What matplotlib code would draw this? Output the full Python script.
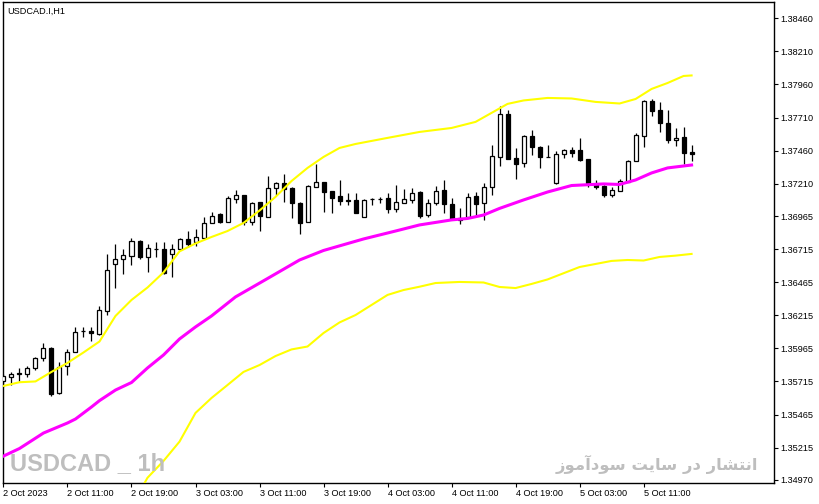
import numpy as np
import matplotlib
matplotlib.use("Agg")
import matplotlib.pyplot as plt

plt.rcParams['font.family'] = ['Liberation Sans', 'DejaVu Sans']

# USDCAD H1 candles, 2 Oct 2023 03:00 onwards
opens = [1.35718, 1.35749, 1.35775, 1.35771, 1.35815, 1.35892, 1.35964, 1.35625, 1.35832, 1.35940,
         1.36099, 1.36099, 1.36074, 1.36250, 1.36601, 1.36639, 1.36666, 1.36777, 1.36658, 1.36714,
         1.36714, 1.36676, 1.36714, 1.36790, 1.36772, 1.36802, 1.36915, 1.36981, 1.36923, 1.37094,
         1.37125, 1.36923, 1.37069, 1.36961, 1.37175, 1.37213, 1.37175, 1.37064, 1.36923, 1.37187,
         1.37221, 1.37155, 1.37117, 1.37082, 1.37087, 1.36961, 1.37094, 1.37092, 1.37100, 1.37021,
         1.37066, 1.37087, 1.37150, 1.36973, 1.37062, 1.37162, 1.37057, 1.36953, 1.36956, 1.37117,
         1.37066, 1.37183, 1.37410, 1.37737, 1.37402, 1.37364, 1.37571, 1.37490, 1.37414, 1.37213,
         1.37432, 1.37465, 1.37465, 1.37397, 1.37206, 1.37193, 1.37125, 1.37157, 1.37225, 1.37382,
         1.37573, 1.37835, 1.37767, 1.37671, 1.37538, 1.37561, 1.37450]
highs = [1.35771, 1.35783, 1.35813, 1.35828, 1.35902, 1.36006, 1.35972, 1.35864, 1.35957, 1.36123,
         1.36129, 1.36127, 1.36285, 1.36679, 1.36754, 1.36714, 1.36797, 1.36781, 1.36754, 1.36772,
         1.36772, 1.36754, 1.36796, 1.36855, 1.36865, 1.36956, 1.36998, 1.36991, 1.37117, 1.37162,
         1.37128, 1.37074, 1.37074, 1.37268, 1.37225, 1.37283, 1.37187, 1.37068, 1.37200, 1.37359,
         1.37223, 1.37156, 1.37238, 1.37138, 1.37142, 1.37092, 1.37100, 1.37112, 1.37138, 1.37200,
         1.37168, 1.37175, 1.37151, 1.37092, 1.37193, 1.37238, 1.37100, 1.37024, 1.37142, 1.37150,
         1.37218, 1.37503, 1.37797, 1.37767, 1.37478, 1.37578, 1.37616, 1.37495, 1.37503, 1.37460,
         1.37469, 1.37490, 1.37553, 1.37400, 1.37238, 1.37197, 1.37187, 1.37243, 1.37389, 1.37596,
         1.37843, 1.37850, 1.37830, 1.37767, 1.37629, 1.37639, 1.37503]
lows = [1.35673, 1.35688, 1.35722, 1.35749, 1.35802, 1.35870, 1.35605, 1.35622, 1.35764, 1.35936,
        1.36053, 1.36021, 1.36066, 1.36217, 1.36422, 1.36525, 1.36595, 1.36639, 1.36545, 1.36658,
        1.36527, 1.36502, 1.36709, 1.36734, 1.36739, 1.36800, 1.36911, 1.36911, 1.36920, 1.37062,
        1.36898, 1.36898, 1.36855, 1.36958, 1.37125, 1.37074, 1.36948, 1.36828, 1.36920, 1.37185,
        1.36998, 1.36986, 1.37049, 1.37049, 1.36986, 1.36959, 1.37049, 1.37066, 1.36986, 1.36998,
        1.37062, 1.37062, 1.36953, 1.36961, 1.37049, 1.36986, 1.36936, 1.36905, 1.36948, 1.36961,
        1.36936, 1.37125, 1.37344, 1.37395, 1.37243, 1.37339, 1.37427, 1.37331, 1.37410, 1.37211,
        1.37402, 1.37414, 1.37382, 1.37183, 1.37168, 1.37107, 1.37107, 1.37155, 1.37223, 1.37380,
        1.37490, 1.37723, 1.37603, 1.37518, 1.37493, 1.37361, 1.37384]
closes = [1.35756, 1.35771, 1.35776, 1.35813, 1.35890, 1.35966, 1.35620, 1.35827, 1.35938, 1.36085,
          1.36100, 1.36079, 1.36255, 1.36558, 1.36641, 1.36671, 1.36777, 1.36658, 1.36722, 1.36715,
          1.36533, 1.36714, 1.36790, 1.36754, 1.36805, 1.36915, 1.36968, 1.36923, 1.37100, 1.37125,
          1.36918, 1.37062, 1.36968, 1.37175, 1.37213, 1.37170, 1.37064, 1.36911, 1.37193, 1.37221,
          1.37150, 1.37104, 1.37082, 1.37083, 1.36991, 1.37087, 1.37095, 1.37091, 1.37021, 1.37069,
          1.37092, 1.37142, 1.36966, 1.37062, 1.37157, 1.37054, 1.36941, 1.36936, 1.37112, 1.37057,
          1.37183, 1.37419, 1.37737, 1.37397, 1.37359, 1.37571, 1.37490, 1.37414, 1.37415, 1.37435,
          1.37465, 1.37440, 1.37389, 1.37213, 1.37187, 1.37125, 1.37162, 1.37230, 1.37384, 1.37578,
          1.37835, 1.37762, 1.37667, 1.37540, 1.37554, 1.37444, 1.37431]

# indicator lines (bar index, price)
upper_idx = [0, 2, 4, 6, 8, 10, 12, 14, 16, 18, 20, 22, 24, 26, 28, 30, 32, 34, 36, 38, 40, 42, 44,
             48, 52, 56, 59, 61, 63, 65, 68, 71, 74, 77, 79, 81, 83, 85, 86]
upper_val = [1.35681, 1.35709, 1.35715, 1.35787, 1.35855, 1.35934, 1.36017, 1.36210, 1.36331, 1.36425,
             1.36539, 1.36698, 1.36758, 1.36807, 1.36852, 1.36913, 1.37007, 1.37110, 1.37230, 1.37329,
             1.37412, 1.37480, 1.37510, 1.37556, 1.37601, 1.37631, 1.37677, 1.37745, 1.37813, 1.37839,
             1.37858, 1.37854, 1.37828, 1.37816, 1.37850, 1.37926, 1.37971, 1.38024, 1.38028]

mid_idx = [0, 2, 5, 8, 9, 11, 12, 14, 16, 18, 20, 22, 24, 26, 29, 33, 37, 40, 45, 49, 52, 56, 58,
           60, 62, 65, 68, 71, 75, 77, 79, 81, 83, 86]
mid_val = [1.35151, 1.35208, 1.35325, 1.35401, 1.35431, 1.35522, 1.35570, 1.35650, 1.35707, 1.35817,
           1.35915, 1.36036, 1.36127, 1.36210, 1.36354, 1.36493, 1.36633, 1.36705, 1.36792, 1.36852,
           1.36898, 1.36936, 1.36947, 1.36973, 1.37023, 1.37087, 1.37147, 1.37196, 1.37208, 1.37204,
           1.37238, 1.37291, 1.37329, 1.37351]

lower_idx = [17, 18, 20, 22, 24, 26, 28, 30, 32, 34, 36, 38, 40, 42, 44, 46, 48, 50, 52, 54, 57, 60,
             62, 64, 66, 68, 70, 72, 74, 76, 78, 80, 82, 84, 86]
lower_val = [1.34879, 1.34987, 1.35114, 1.35260, 1.35477, 1.35590, 1.35688, 1.35787, 1.35839, 1.35907,
             1.35957, 1.35979, 1.36081, 1.36161, 1.36217, 1.36293, 1.36369, 1.36406, 1.36431, 1.36459,
             1.36467, 1.36463, 1.36429, 1.36421, 1.36452, 1.36486, 1.36533, 1.36580, 1.36603, 1.36626,
             1.36633, 1.36629, 1.36656, 1.36666, 1.36679]

xtick_labels = ["2 Oct 2023", "2 Oct 11:00", "2 Oct 19:00", "3 Oct 03:00", "3 Oct 11:00",
                "3 Oct 19:00", "4 Oct 03:00", "4 Oct 11:00", "4 Oct 19:00", "5 Oct 03:00",
                "5 Oct 11:00"]
ytick_values = [1.38460, 1.38210, 1.37960, 1.37710, 1.37460, 1.37210, 1.36965, 1.36715,
                1.36465, 1.36215, 1.35965, 1.35715, 1.35465, 1.35215, 1.34970]

o = np.array(opens)
h = np.array(highs)
l = np.array(lows)
c = np.array(closes)
x = np.arange(len(o))

fig = plt.figure(figsize=(8.2, 5.04), dpi=100)
ax = fig.add_axes([3 / 820, 21 / 504, 771 / 820, 481 / 504])

# candles
ax.vlines(x, l, h, color='black', linewidth=0.9, zorder=2)
up = c >= o
ax.bar(x[up], (c - o)[up], bottom=o[up], width=0.5, color='white',
       edgecolor='black', linewidth=0.9, zorder=3)
ax.bar(x[~up], (o - c)[~up], bottom=c[~up], width=0.5, color='black',
       edgecolor='black', linewidth=0.9, zorder=3)

# bands
ax.plot(upper_idx, upper_val, color='#ffff00', linewidth=1.5, zorder=4)
ax.plot(lower_idx, lower_val, color='#ffff00', linewidth=1.5, zorder=4)
ax.plot(mid_idx, mid_val, color='#ff00ff', linewidth=2.2, zorder=4)

ax.set_xlim(-0.06, 96.3)
ax.set_ylim(1.349473, 1.385832)

ax.set_xticks(range(0, 88, 8))
ax.set_xticklabels(xtick_labels, ha='left')
ax.yaxis.tick_right()
ax.set_yticks(ytick_values)
ax.set_yticklabels(["%.5f" % v for v in ytick_values])
ax.tick_params(axis='both', length=3, width=0.8, color='black', labelsize=6.6, pad=1.5)

for s in ax.spines.values():
    s.set_color('black')
    s.set_linewidth(1.0)

fig.text(7 / 820, 1 - 11 / 504, "USDCAD.I,H1", fontsize=6.6, va='center', ha='left')

# watermarks
fig.text(10 / 820, 1 - 464 / 504, "USDCAD _ 1h", fontsize=17, fontweight='bold',
         family=['Liberation Sans', 'DejaVu Sans'], color='#bebebe',
         va='center', ha='left')
# "انتشار در سایت سودآموز" in shaped (presentation) forms, visual order
persian = ("\uFE8D\uFEE7\uFE98\uFEB8\uFE8E\uFEAD \uFEA9\uFEAD \uFEB3\uFE8E\uFBFE\uFE96 "
           "\uFEB3\uFEEE\uFEA9\uFE81\uFEE3\uFEEE\uFEAF")[::-1]
fig.text(758 / 820, 1 - 464 / 504, persian, fontsize=11.8, fontweight='bold',
         family=['DejaVu Sans'], color='#bebebe', va='center', ha='right')

fig.savefig("out.png", dpi=100)
